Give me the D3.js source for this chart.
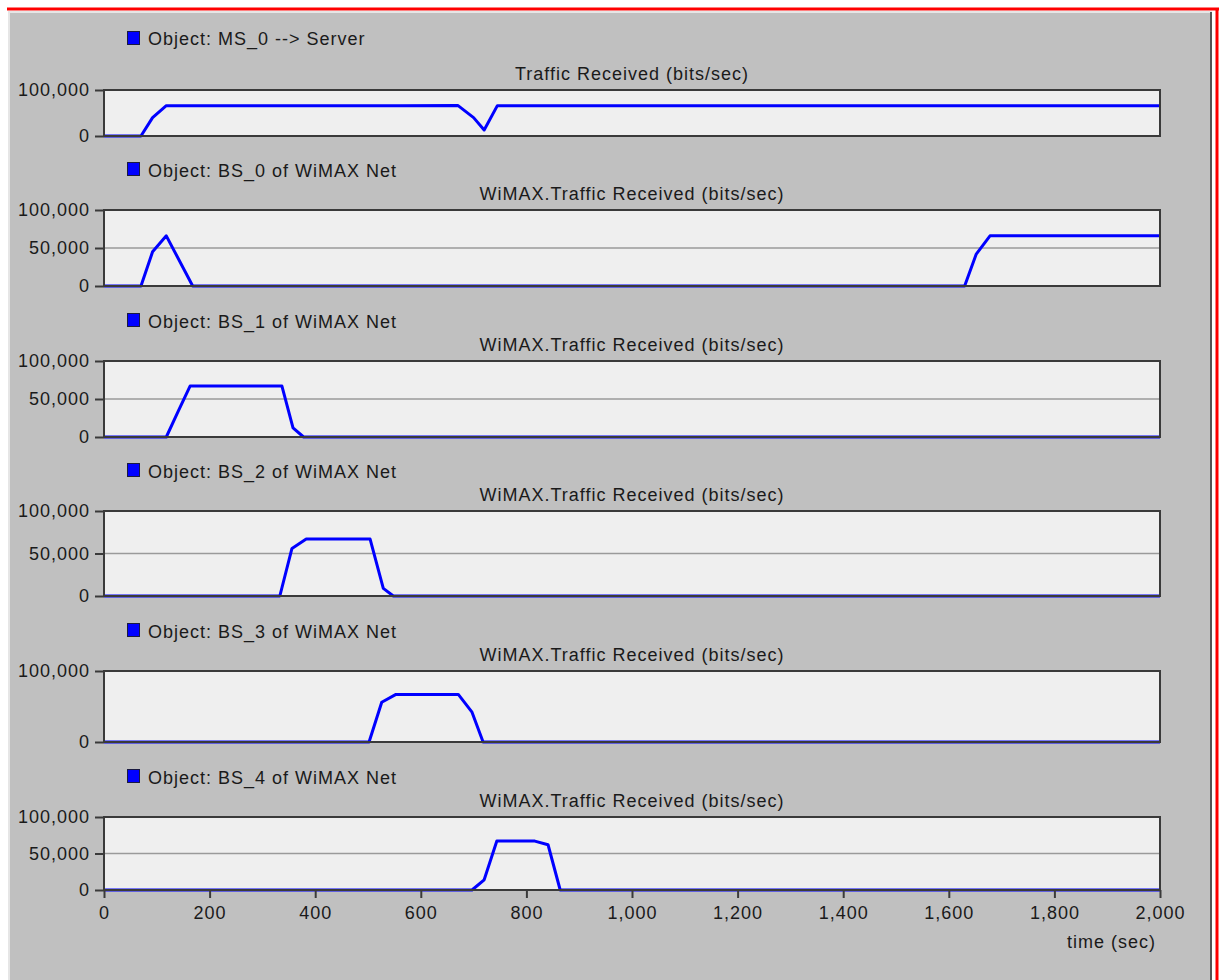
<!DOCTYPE html>
<html>
<head>
<meta charset="utf-8">
<script src="https://cdn.jsdelivr.net/npm/d3@7"></script>
<style>
  html, body { margin: 0; padding: 0; background: #fff; }
  svg { display: block; }
  text { font-family: "Liberation Sans", Arial, sans-serif; font-size: 18px; letter-spacing: 1px; fill: #1a1a1a; }
</style>
</head>
<body>
<svg id="chart" width="1221" height="980"></svg>
<script>
// data: [time (sec), bits/sec]
var objectNames = ["Object: MS_0 --> Server", "Object: BS_0 of WiMAX Net", "Object: BS_1 of WiMAX Net",
                   "Object: BS_2 of WiMAX Net", "Object: BS_3 of WiMAX Net", "Object: BS_4 of WiMAX Net"];
var statNames = ["Traffic Received (bits/sec)", "WiMAX.Traffic Received (bits/sec)", "WiMAX.Traffic Received (bits/sec)",
                 "WiMAX.Traffic Received (bits/sec)", "WiMAX.Traffic Received (bits/sec)", "WiMAX.Traffic Received (bits/sec)"];

var ms0 = [[0,0],[70,0],[92,40000],[118,66000],[300,66000],[360,65500],[420,66000],[560,66000],
           [670,66500],[700,40000],[720,13000],[745,66000],[1000,66000],[1400,65500],[1700,66000],[2000,65500]];
var bs0 = [[0,0],[70,0],[92,45000],[118,66000],[168,0],[1630,0],[1652,42000],[1678,66000],[2000,66000]];
var bs1 = [[0,0],[118,0],[140,33000],[163,67000],[337,67000],[358,12000],[378,0],[2000,0]];
var bs2 = [[0,0],[333,0],[356,56000],[383,67000],[504,67000],[529,9000],[548,0],[2000,0]];
var bs3 = [[0,0],[502,0],[526,56000],[553,67000],[671,67000],[697,42000],[718,0],[2000,0]];
var bs4 = [[0,0],[697,0],[720,14000],[744,67000],[816,67000],[841,62000],[864,0],[2000,0]];
var seriesList = [ms0, bs0, bs1, bs2, bs3, bs4];

var yTickList = [[0, 100000], [0, 50000, 100000], [0, 50000, 100000],
                 [0, 50000, 100000], [0, 100000], [0, 50000, 100000]];
var xTicks = [0, 200, 400, 600, 800, 1000, 1200, 1400, 1600, 1800, 2000];

// layout
var plotLeft = 104, plotRight = 1160;
var tops = [90, 210, 361, 511, 671, 817];
var bottoms = [136, 286, 437, 596, 742, 890];

var svg = d3.select("#chart");

// window frame
svg.append("rect").attr("x", 9).attr("y", 11).attr("width", 1203).attr("height", 980).attr("fill", "#c0c0c0");
svg.append("line").attr("x1", 9).attr("x2", 9).attr("y1", 11).attr("y2", 980).attr("stroke", "#e6e6e6").attr("stroke-width", 2);
svg.append("line").attr("x1", 9).attr("x2", 1212).attr("y1", 12).attr("y2", 12).attr("stroke", "#e6e6e6").attr("stroke-width", 2);
svg.append("line").attr("x1", 1211).attr("x2", 1211).attr("y1", 12).attr("y2", 980).attr("stroke", "#555", ).attr("stroke-width", 2);
svg.append("line").attr("x1", 7).attr("x2", 1219).attr("y1", 9).attr("y2", 9).attr("stroke", "#ff0000").attr("stroke-width", 3);
svg.append("line").attr("x1", 1217).attr("x2", 1217).attr("y1", 8).attr("y2", 980).attr("stroke", "#ff0000").attr("stroke-width", 3);

var x = d3.scaleLinear().domain([0, 2000]).range([plotLeft, plotRight]);

seriesList.forEach(function(data, i) {
    var top = tops[i], bottom = bottoms[i];
    var y = d3.scaleLinear().domain([0, 100000]).range([bottom, top]);
    var g = svg.append("g");

    // legend
    g.append("rect").attr("x", 127.5).attr("y", top - (i === 0 ? 58.5 : 47.5)).attr("width", 12).attr("height", 13)
        .attr("fill", "#0000ff").attr("stroke", "#1a1a40").attr("stroke-width", 1);
    g.append("text").attr("x", 148).attr("y", top - (i === 0 ? 45 : 33)).text(objectNames[i]);

    // statistic title
    g.append("text").attr("x", (plotLeft + plotRight) / 2).attr("y", top - 10)
        .attr("text-anchor", "middle").text(statNames[i]);

    // plot background
    g.append("rect").attr("x", plotLeft).attr("y", top).attr("width", plotRight - plotLeft)
        .attr("height", bottom - top).attr("fill", "#efefef");

    // gridlines (inner ticks only)
    g.selectAll(".grid").data(yTickList[i].filter(function(v) { return v > 0 && v < 100000; }))
        .enter().append("line")
        .attr("x1", plotLeft).attr("x2", plotRight)
        .attr("y1", function(d) { return y(d); }).attr("y2", function(d) { return y(d); })
        .attr("stroke", "#9a9a9a").attr("stroke-width", 1.5);

    // series line
    var line = d3.line().x(function(d) { return x(d[0]); }).y(function(d) { return y(d[1]); });
    g.append("path").datum(data).attr("d", line)
        .attr("fill", "none").attr("stroke", "#0000ff").attr("stroke-width", 3)
        .attr("stroke-linejoin", "round");

    // frame
    g.append("rect").attr("x", plotLeft).attr("y", top).attr("width", plotRight - plotLeft)
        .attr("height", bottom - top).attr("fill", "none").attr("stroke", "#3a3a3a").attr("stroke-width", 2);

    // y axis
    var yAxis = g.append("g").attr("transform", "translate(" + plotLeft + ",0)")
        .call(d3.axisLeft(y).tickValues(yTickList[i]).tickSize(9).tickPadding(5).tickFormat(d3.format(",")));
    yAxis.select(".domain").remove();
    yAxis.selectAll(".tick line").attr("stroke", "#3a3a3a").attr("stroke-width", 2);
    yAxis.selectAll("text").attr("fill", "#1a1a1a").style("font-size", "18px")
        .style("font-family", "'Liberation Sans', Arial, sans-serif");

    if (i === seriesList.length - 1) {
        var xAxis = g.append("g").attr("transform", "translate(0," + bottom + ")")
            .call(d3.axisBottom(x).tickValues(xTicks).tickSize(8).tickPadding(8).tickFormat(d3.format(",")));
        xAxis.select(".domain").remove();
        xAxis.selectAll(".tick line").attr("stroke", "#3a3a3a").attr("stroke-width", 2);
        xAxis.selectAll("text").attr("fill", "#1a1a1a").style("font-size", "18px")
            .style("font-family", "'Liberation Sans', Arial, sans-serif");
        g.append("text").attr("x", 1156).attr("y", bottom + 58).attr("text-anchor", "end").text("time (sec)");
    }
});
</script>
</body>
</html>
